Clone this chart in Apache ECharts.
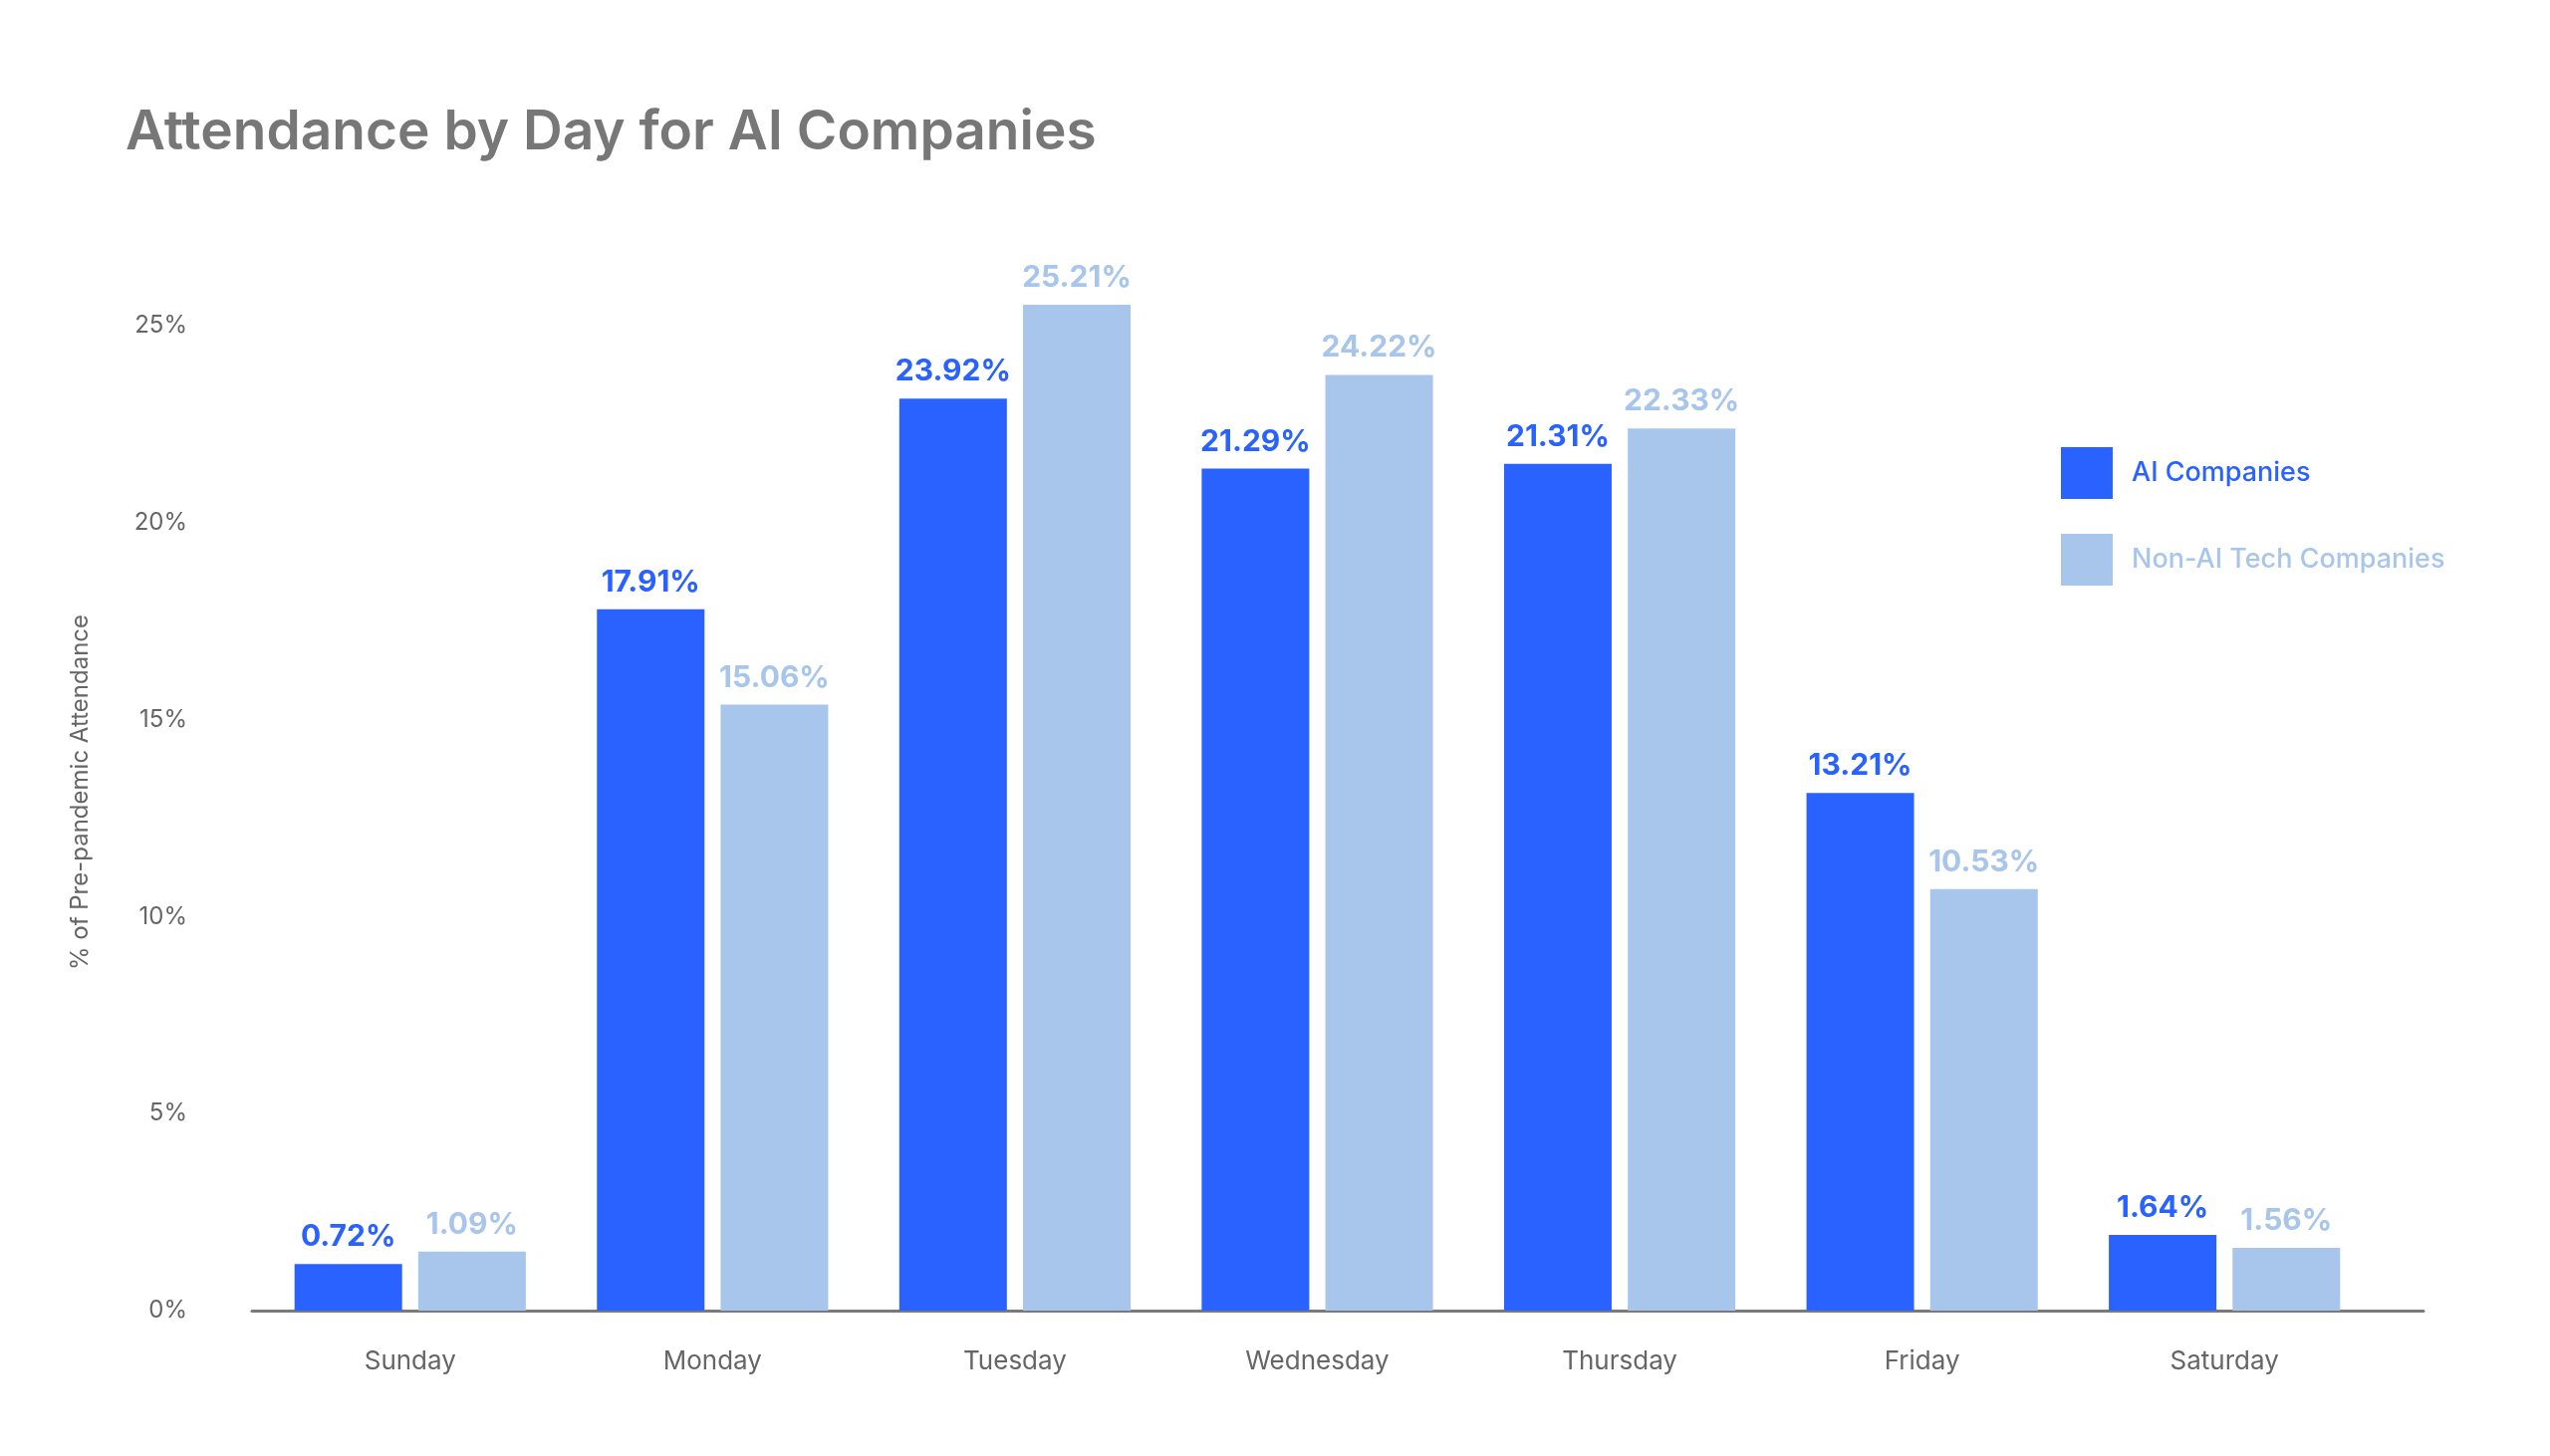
<!DOCTYPE html>
<html>
<head>
<meta charset="utf-8">
<script src="https://cdn.jsdelivr.net/npm/echarts@6/dist/echarts.min.js"></script>
<style>
  html, body { margin: 0; padding: 0; background: #fff; }
  #chart { width: 2560px; height: 1462px; }
</style>
</head>
<body>
<div id="chart"></div>
<script>
// categories and values
var days = ['Sunday', 'Monday', 'Tuesday', 'Wednesday', 'Thursday', 'Friday', 'Saturday'];
// bar heights as drawn (%)
var aiHeights = [1.18, 17.80, 23.15, 21.37, 21.49, 13.14, 1.92];
var nonAiHeights = [1.50, 15.38, 25.53, 23.75, 22.39, 10.70, 1.59];
// printed labels (%)
var aiLabels = ['0.72', '17.91', '23.92', '21.29', '21.31', '13.21', '1.64'];
var nonAiLabels = ['1.09', '15.06', '25.21', '24.22', '22.33', '10.53', '1.56'];
var yTicks = [0, 5, 10, 15, 20, 25];

var blue = '#2962ff';
var lightBlue = '#a8c6eb';
var font = 'Inter';

var myChart = echarts.init(document.getElementById('chart'));
var option = {
	backgroundColor: '#fff',
	animation: false,
	title: {
		text: 'Attendance by Day for AI Companies',
		left: 121,
		top: 101,
		textStyle: {
			fontFamily: font,
			fontSize: 55,
			fontWeight: 600,
			color: '#777777'
		}
	},
	legend: {
		orient: 'vertical',
		left: 2064,
		top: 444,
		itemWidth: 52,
		itemHeight: 52,
		itemGap: 35,
		icon: 'rect',
		data: [
			{ name: 'AI Companies', textStyle: { color: blue } },
			{ name: 'Non-AI Tech Companies', textStyle: { color: lightBlue } }
		],
		textStyle: {
			fontFamily: font,
			fontSize: 27,
			fontWeight: 500,
			padding: [0, 0, 0, 14]
		}
	},
	grid: [
		// bars
		{ left: 260, right: 175, top: 327, bottom: 146 },
		// the base line runs wider than the bars
		{ left: 253, right: 127, top: 327, bottom: 146 }
	],
	xAxis: [
		{
			type: 'category',
			data: days,
			gridIndex: 0,
			axisTick: { show: false },
			axisLine: { show: false },
			axisLabel: {
				margin: 38,
				fontFamily: font,
				fontSize: 26,
				color: '#666666'
			}
		},
		{
			type: 'category',
			data: days,
			gridIndex: 1,
			axisTick: { show: false },
			axisLabel: { show: false },
			axisLine: { lineStyle: { color: '#7a7a7a', width: 3 } }
		}
	],
	yAxis: [
		{
			type: 'value',
			gridIndex: 0,
			min: yTicks[0],
			max: yTicks[yTicks.length - 1],
			interval: 5,
			splitLine: { show: false },
			axisLine: { show: false },
			axisTick: { show: false },
			axisLabel: { show: false }
		},
		{
			type: 'value',
			gridIndex: 1,
			min: yTicks[0],
			max: yTicks[yTicks.length - 1],
			interval: 5,
			name: '% of Pre-pandemic Attendance',
			nameLocation: 'middle',
			nameGap: 160,
			nameRotate: 90,
			nameTextStyle: {
				fontFamily: font,
				fontSize: 24,
				color: '#666666',
				padding: [0, 0, 0, 52]
			},
			splitLine: { show: false },
			axisLine: { show: false },
			axisTick: { show: false },
			axisLabel: {
				margin: 65,
				fontFamily: font,
				fontSize: 24,
				color: '#666666',
				formatter: '{value}%'
			}
		}
	],
	series: [
		{
			name: 'AI Companies',
			type: 'bar',
			data: aiHeights,
			barWidth: 108,
			barGap: '15%',
			clip: false,
			itemStyle: { color: blue },
			label: {
				show: true,
				position: 'top',
				distance: 12,
				fontFamily: font,
				fontSize: 30,
				fontWeight: 700,
				color: blue,
				formatter: function (p) { return aiLabels[p.dataIndex] + '%'; }
			}
		},
		{
			name: 'Non-AI Tech Companies',
			type: 'bar',
			data: nonAiHeights,
			barWidth: 108,
			clip: false,
			itemStyle: { color: lightBlue },
			label: {
				show: true,
				position: 'top',
				distance: 12,
				fontFamily: font,
				fontSize: 30,
				fontWeight: 700,
				color: lightBlue,
				formatter: function (p) { return nonAiLabels[p.dataIndex] + '%'; }
			}
		}
	]
};
myChart.setOption(option);
window.onresize = myChart.resize;
</script>
</body>
</html>
